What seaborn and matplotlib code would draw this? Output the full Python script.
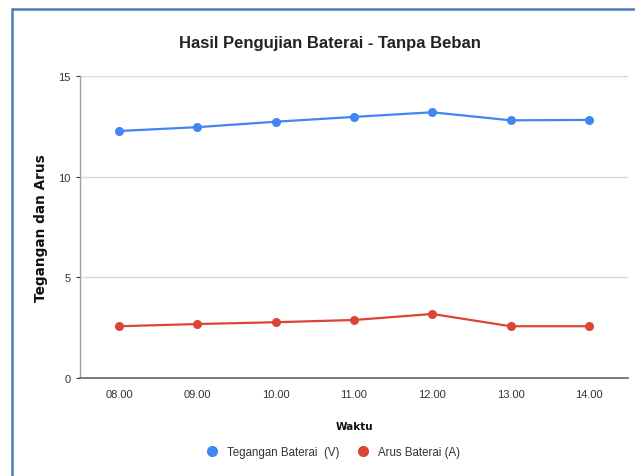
import matplotlib
matplotlib.use("Agg")
import matplotlib.pyplot as plt
from matplotlib.lines import Line2D
import seaborn as sns
import pandas as pd

# ---- data ----
waktu = ["08.00", "09.00", "10.00", "11.00", "12.00", "13.00", "14.00"]
tegangan = [12.27, 12.46, 12.73, 12.97, 13.20, 12.80, 12.82]
arus = [2.57, 2.68, 2.77, 2.88, 3.18, 2.57, 2.57]
series_names = ["Tegangan Baterai  (V)", "Arus Baterai (A)"]
y_ticks = [0, 5, 10, 15]

df = pd.DataFrame({
    "Waktu": waktu * 2,
    "Nilai": tegangan + arus,
    "Seri": [series_names[0]] * len(waktu) + [series_names[1]] * len(waktu),
})

sns.set_style("white")
plt.rcParams["font.family"] = ["Liberation Sans", "DejaVu Sans"]

colors = {series_names[0]: "#4285F4", series_names[1]: "#DB4437"}

fig = plt.figure(figsize=(6.35, 4.77), dpi=100)
ax = fig.add_axes([0.126, 0.2055, 0.863, 0.633])

sns.lineplot(data=df, x="Waktu", y="Nilai", hue="Seri", palette=colors,
             marker="o", markersize=6.5, markeredgewidth=0, linewidth=1.6,
             sort=False, legend=False, ax=ax)

ax.set_xlim(-0.5, 6.5)
ax.set_ylim(0, 15)
ax.set_yticks(y_ticks)
ax.set_yticklabels([str(t) for t in y_ticks])
ax.yaxis.grid(True, color="#d9d9d9", linewidth=1)
ax.set_axisbelow(True)
for s in ["top", "right"]:
    ax.spines[s].set_visible(False)
ax.spines["left"].set_color("#9e9e9e")
ax.spines["left"].set_linewidth(1)
ax.spines["bottom"].set_color("#6f6f6f")
ax.spines["bottom"].set_linewidth(1.3)
ax.tick_params(axis="x", length=0, labelsize=8, colors="#333333", pad=8)
ax.tick_params(axis="y", length=3, left=True, labelsize=8, colors="#333333",
               pad=4, width=0.8)

ax.set_xlabel("Waktu", fontsize=7.5, fontweight="bold", family="DejaVu Sans",
              labelpad=16, color="#111111")
ax.set_ylabel("Tegangan dan Arus", fontsize=9.8, fontweight="bold",
              family="DejaVu Sans", color="#111111")
ax.yaxis.set_label_coords(-0.058, 0.5)

fig.text(0.52, 0.908, "Hasil Pengujian Baterai - Tanpa Beban",
         ha="center", va="center", fontsize=12, fontweight="bold",
         color="#222222")

handles = [Line2D([], [], marker="o", linestyle="none", markersize=8,
                  markerfacecolor=colors[n], markeredgewidth=0)
           for n in series_names]
fig.legend(handles, series_names, loc="center", bbox_to_anchor=(0.52, 0.05),
           ncol=2, frameon=False, fontsize=8.3, handletextpad=0.3,
           columnspacing=1.1, labelcolor="#333333")

# frame lines of the original screenshot
fig.add_artist(Line2D([12 / 635, 1.0], [1 - 10 / 477, 1 - 10 / 477],
                      transform=fig.transFigure, color="#4a7ebb", linewidth=1.8))
fig.add_artist(Line2D([12 / 635, 12 / 635], [0, 1 - 10 / 477],
                      transform=fig.transFigure, color="#4a7ebb", linewidth=1.8))

fig.savefig("out.png", dpi=100, facecolor="white")
